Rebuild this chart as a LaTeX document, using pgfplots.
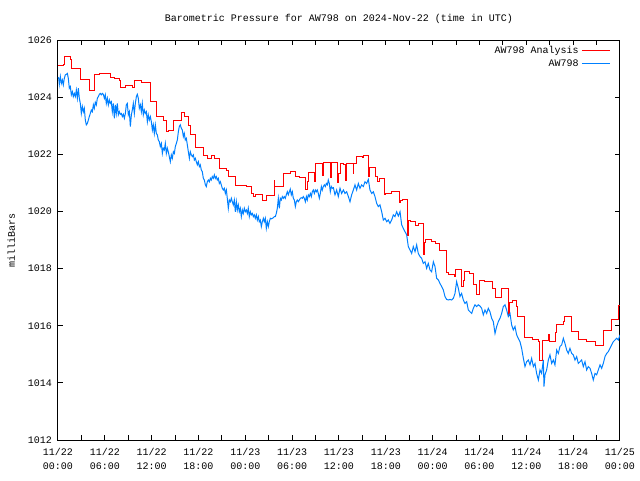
\documentclass[border=0pt]{standalone}
\usepackage{fontspec}
\setmainfont{Liberation Mono}
\usepackage{pgfplots}
\pgfplotsset{compat=1.18}
\definecolor{gred}{RGB}{255,0,0}
\definecolor{gblue}{RGB}{0,128,255}
\begin{document}
\begin{tikzpicture}[font=\fontsize{7.5}{10.5}\selectfont]
\path[use as bounding box] (0pt,0pt) rectangle (480pt,360pt);
\begin{axis}[
  at={(43.5pt,30pt)}, anchor=south west,
  scale only axis, width=421.5pt, height=300pt,
  xmin=0, xmax=72, ymin=1012, ymax=1026,
  xtick={0,6,...,72}, minor xtick={3,9,...,69},
  ytick={1012,1014,...,1026},
  xticklabels={{11/22\\00:00},{11/22\\06:00},{11/22\\12:00},{11/22\\18:00},{11/23\\00:00},{11/23\\06:00},{11/23\\12:00},{11/23\\18:00},{11/24\\00:00},{11/24\\06:00},{11/24\\12:00},{11/24\\18:00},{11/25\\00:00}},
  xticklabel style={align=center, font=\fontsize{7.5}{11}\selectfont, yshift=-2.5pt},
  yticklabel style={/pgf/number format/1000 sep={}, xshift=-1pt},
  /pgf/number format/assume math mode=true,
  tick style={black, line width=0.75pt},
  major tick length=3.75pt, minor tick length=3.75pt,
  axis line style={line width=0.75pt},
  legend style={draw=none, fill=none, at={(1,1)}, anchor=north east, xshift=-4pt, yshift=-0.5pt, row sep=-1pt, font=\fontsize{7.5}{9}\selectfont},
  legend cell align=right,
  legend plot pos=right,
  legend image code/.code={\draw[#1] (0pt,0pt) -- (21pt,0pt);},
]
\addplot[const plot, gred, line width=0.75pt] table {
0 1025.125
0.68 1025.15
0.81 1025.43
1.54 1025.33
1.79 1025.01
2.86 1024.62
4.01 1024.25
4.74 1024.80
5.30 1024.82
5.81 1024.845
6.70 1024.70
7.22 1024.66
7.86 1024.60
8.07 1024.33
8.71 1024.40
8.93 1024.425
9.57 1024.345
9.78 1024.59
10.76 1024.50
11.79 1023.865
12.68 1023.34
13.50 1023.20
13.84 1022.815
14.18 1022.85
14.78 1023.20
15.76 1023.457
16.19 1023.34
16.70 1023.025
16.95 1022.70
17.68 1022.23
18.66 1021.975
19.18 1021.86
19.73 1021.975
20.11 1021.86
20.67 1021.51
21.61 1021.45
21.87 1021.215
22.80 1020.925
24.09 1020.865
24.73 1020.635
25.03 1020.515
25.28 1020.60
26.22 1020.40
26.65 1020.55
27.72 1021.10
27.80 1020.88
28.91 1021.335
29.85 1021.415
30.49 1021.215
30.92 1021.18
31.77 1020.785
31.95 1021.065
32.11 1021.357
32.84 1021.065
32.97 1021.685
33.85 1021.275
34.00 1021.72
34.89 1021.20
35.02 1021.70
35.79 1021.007
35.915 1021.333
36.13 1021.683
36.56 1021.637
36.85 1021.10
36.98 1021.683
37.84 1021.333
37.92 1021.683
38.26 1021.917
38.99 1021.88
39.12 1021.95
39.76 1021.24
39.97 1021.543
40.74 1021.24
40.95 1021.042
41.25 1021.147
41.81 1020.598
41.98 1020.633
42.75 1020.715
43.69 1020.307
43.90 1020.40
44.11 1020.423
44.80 1019.175
44.93 1019.70
45.22 1019.665
45.86 1019.525
46.16 1019.583
46.80 1018.50
46.90 1018.90
47.02 1019.023
47.87 1018.942
48.30 1018.883
48.85 1018.65
49.71 1017.868
50.01 1017.81
50.86 1017.74
50.99 1017.973
51.71 1017.367
51.93 1017.60
52.14 1017.915
52.70 1017.833
53.29 1017.46
53.64 1017.098
54.06 1017.60
54.70 1017.542
55.64 1017.308
55.99 1016.993
56.84 1017.308
57.69 1016.35
57.80 1016.82
58.25 1016.90
58.68 1016.667
58.89 1016.34
59.74 1015.593
60.77 1015.523
61.54 1015.465
61.75 1014.80
62.10 1015.48
62.82 1015.71
62.95 1015.465
63.80 1015.757
63.89 1016.06
64.74 1016.142
64.95 1016.34
65.81 1015.80
66.66 1015.52
67.73 1015.465
68.80 1015.325
69.86 1015.84
70.85 1016.21
71.79 1016.72
72.00 1016.72
};
\addlegendentry{AW798 Analysis}
\addplot[gblue, line width=0.75pt] table {
0.00 1024.70
0.09 1024.66
0.17 1024.45
0.30 1024.72
0.43 1024.48
0.56 1024.60
0.68 1024.43
0.81 1024.66
0.94 1024.78
1.07 1024.80
1.20 1024.83
1.32 1024.66
1.45 1024.31
1.58 1024.37
1.71 1024.08
1.84 1024.19
1.96 1024.02
2.09 1024.13
2.22 1024.02
2.35 1024.25
2.48 1023.96
2.61 1024.31
2.73 1023.96
2.86 1023.78
2.99 1023.43
3.12 1023.67
3.25 1023.49
3.37 1023.61
3.50 1023.20
3.63 1023.03
3.76 1023.08
3.89 1023.20
4.01 1023.32
4.14 1023.43
4.27 1023.55
4.40 1023.49
4.53 1023.73
4.65 1023.61
4.78 1023.82
4.91 1023.73
5.04 1023.96
5.17 1024.02
5.30 1024.10
5.42 1024.13
5.55 1024.08
5.68 1024.13
5.81 1024.10
5.94 1023.96
6.06 1024.08
6.19 1023.78
6.32 1023.96
6.45 1023.73
6.58 1023.90
6.70 1023.78
6.83 1023.84
6.96 1023.49
7.09 1023.78
7.22 1023.26
7.35 1023.73
7.47 1023.43
7.60 1023.78
7.73 1023.38
7.86 1023.49
7.99 1023.40
8.11 1023.43
8.24 1023.32
8.37 1023.40
8.50 1023.26
8.63 1023.43
8.75 1023.73
8.88 1023.78
9.01 1023.38
9.14 1023.49
9.27 1022.97
9.40 1023.38
9.52 1023.55
9.65 1023.78
9.78 1023.43
9.91 1023.78
10.04 1024.02
10.16 1024.10
10.29 1023.96
10.42 1023.61
10.55 1023.73
10.68 1023.49
10.80 1023.78
10.93 1023.38
11.06 1023.55
11.19 1023.43
11.32 1023.49
11.45 1023.14
11.57 1023.38
11.70 1023.20
11.83 1023.32
11.96 1023.14
12.09 1022.85
12.21 1023.03
12.34 1022.73
12.47 1023.03
12.60 1022.73
12.73 1022.68
12.85 1022.50
12.98 1022.44
13.11 1022.27
13.24 1022.38
13.37 1022.03
13.49 1022.21
13.62 1022.15
13.75 1022.38
13.88 1022.03
14.01 1022.21
14.13 1022.09
14.26 1021.92
14.39 1021.74
14.52 1021.98
14.65 1021.86
14.78 1022.09
14.91 1022.03
15.03 1022.27
15.16 1022.38
15.29 1022.50
15.42 1022.79
15.54 1022.97
15.67 1023.03
15.80 1022.91
15.93 1022.85
16.06 1022.62
16.18 1022.73
16.31 1022.50
16.44 1022.56
16.57 1022.33
16.70 1022.09
16.83 1021.86
16.95 1022.09
17.08 1021.98
17.21 1021.92
17.34 1021.98
17.47 1021.80
17.59 1021.86
17.72 1021.74
17.85 1021.63
17.98 1021.74
18.11 1021.57
18.23 1021.63
18.36 1021.45
18.49 1021.39
18.62 1021.16
18.75 1021.10
18.88 1020.93
19.00 1020.87
19.13 1021.04
19.26 1021.10
19.39 1021.04
19.52 1021.16
19.64 1021.10
19.77 1021.22
19.90 1021.16
20.03 1021.28
20.16 1021.16
20.28 1021.22
20.41 1021.10
20.54 1021.16
20.67 1020.98
20.80 1021.04
20.92 1020.93
21.05 1020.81
21.18 1020.75
21.31 1020.81
21.44 1020.63
21.57 1020.75
21.69 1020.46
21.82 1020.11
21.95 1020.40
22.08 1020.34
22.21 1020.46
22.33 1020.34
22.46 1020.23
22.59 1020.40
22.72 1019.99
22.85 1020.34
22.97 1020.05
23.10 1020.23
23.23 1019.99
23.36 1020.11
23.49 1019.82
23.62 1020.05
23.74 1019.93
23.87 1020.11
24.00 1019.99
24.13 1020.05
24.26 1019.93
24.38 1020.11
24.51 1019.82
24.64 1019.99
24.77 1019.88
24.90 1019.93
25.03 1019.82
25.15 1019.88
25.28 1019.76
25.41 1019.88
25.54 1019.70
25.67 1019.82
25.79 1019.64
25.92 1019.70
26.05 1019.47
26.18 1019.64
26.31 1019.76
26.43 1019.64
26.56 1019.76
26.69 1019.41
26.82 1019.64
26.95 1019.47
27.07 1019.64
27.20 1019.76
27.33 1019.74
27.46 1019.76
27.59 1019.78
27.72 1019.82
27.84 1019.82
27.97 1019.93
28.10 1020.11
28.23 1020.46
28.36 1020.11
28.48 1020.46
28.61 1020.40
28.74 1020.52
28.87 1020.46
29.00 1020.52
29.12 1020.46
29.25 1020.58
29.38 1020.69
29.51 1020.58
29.64 1020.69
29.76 1020.78
29.89 1020.58
30.02 1020.69
30.15 1020.46
30.28 1020.40
30.41 1020.17
30.53 1020.34
30.66 1020.40
30.79 1020.34
30.92 1020.40
31.05 1020.46
31.17 1020.48
31.30 1020.46
31.43 1020.52
31.56 1020.46
31.69 1020.34
31.82 1020.52
31.94 1020.40
32.07 1020.58
32.20 1020.52
32.33 1020.63
32.46 1020.52
32.58 1020.69
32.71 1020.75
32.84 1020.63
32.97 1020.75
33.10 1020.69
33.22 1020.75
33.35 1020.63
33.48 1020.46
33.61 1020.63
33.74 1020.87
33.86 1020.75
33.99 1020.87
34.12 1020.93
34.25 1020.87
34.38 1020.98
34.51 1020.93
34.63 1021.10
34.76 1020.98
34.89 1020.69
35.02 1020.87
35.15 1020.81
35.28 1020.83
35.49 1020.58
35.70 1020.75
35.91 1020.52
36.13 1020.81
36.34 1020.63
36.56 1020.75
36.77 1020.63
36.98 1020.69
37.20 1020.52
37.41 1020.34
37.62 1020.58
37.84 1020.75
38.05 1020.93
38.26 1020.75
38.48 1020.98
38.69 1020.81
38.90 1020.93
39.12 1020.87
39.33 1021.04
39.54 1020.98
39.76 1021.12
39.97 1020.75
40.19 1020.63
40.40 1020.69
40.61 1020.52
40.83 1020.28
41.04 1020.17
41.25 1020.23
41.47 1019.99
41.68 1019.70
41.89 1019.76
42.11 1019.64
42.32 1019.70
42.53 1019.58
42.75 1019.70
42.96 1019.88
43.17 1019.82
43.39 1019.99
43.60 1019.84
43.82 1019.99
44.03 1019.53
44.24 1019.41
44.46 1019.29
44.67 1019.18
44.88 1018.77
45.10 1018.65
45.31 1018.53
45.52 1018.77
45.74 1018.59
45.95 1018.83
46.16 1018.53
46.38 1018.42
46.59 1018.36
46.80 1018.18
47.02 1018.24
47.23 1018.01
47.44 1018.18
47.66 1017.95
47.87 1017.89
48.09 1018.24
48.30 1018.07
48.51 1017.66
48.73 1017.60
48.94 1017.48
49.15 1017.37
49.37 1017.25
49.58 1017.02
49.79 1016.92
50.01 1016.90
50.22 1016.92
50.43 1016.90
50.65 1016.96
50.86 1017.13
51.07 1017.54
51.29 1017.31
51.50 1017.02
51.71 1017.13
51.93 1016.90
52.14 1016.78
52.36 1016.84
52.57 1016.55
52.78 1016.49
53.00 1016.43
53.21 1016.61
53.42 1016.73
53.64 1016.67
53.85 1016.73
54.06 1016.69
54.28 1016.61
54.49 1016.38
54.70 1016.55
54.92 1016.43
55.13 1016.61
55.34 1016.49
55.56 1016.26
55.77 1016.14
55.99 1015.73
56.20 1015.97
56.41 1016.14
56.63 1016.26
56.84 1016.43
57.05 1016.67
57.27 1016.73
57.48 1016.55
57.69 1016.32
57.91 1016.43
58.12 1016.03
58.33 1015.85
58.55 1015.97
58.76 1015.68
58.97 1015.56
59.19 1015.44
59.40 1015.21
59.62 1014.86
59.83 1014.57
60.04 1014.74
60.26 1014.80
60.47 1014.63
60.68 1014.86
60.90 1014.57
61.11 1014.68
61.32 1014.33
61.54 1014.10
61.75 1014.45
61.96 1014.33
62.18 1014.80
62.26 1013.87
62.39 1014.28
62.60 1014.45
62.82 1014.80
63.03 1014.98
63.25 1014.68
63.46 1014.80
63.67 1014.63
63.89 1015.15
64.10 1015.03
64.31 1015.27
64.53 1015.33
64.74 1015.56
64.95 1015.38
65.17 1015.15
65.38 1015.03
65.59 1015.21
65.81 1015.03
66.02 1014.98
66.23 1014.80
66.45 1014.92
66.66 1014.68
66.88 1014.74
67.09 1014.80
67.30 1014.57
67.52 1014.74
67.73 1014.45
67.94 1014.57
68.16 1014.51
68.37 1014.33
68.58 1014.10
68.80 1014.33
69.01 1014.28
69.22 1014.45
69.44 1014.63
69.65 1014.51
69.86 1014.68
70.08 1014.92
70.29 1015.03
70.50 1015.09
70.72 1015.21
70.93 1015.33
71.14 1015.44
71.36 1015.50
71.57 1015.56
71.79 1015.50
72.00 1015.68
};
\addlegendentry{AW798}
\end{axis}
\node at (254.25pt,346pt) {Barometric Pressure for AW798 on 2024-Nov-22 (time in UTC)};
\node[rotate=90] at (8.5pt,180pt) {milliBars};
\end{tikzpicture}
\end{document}
